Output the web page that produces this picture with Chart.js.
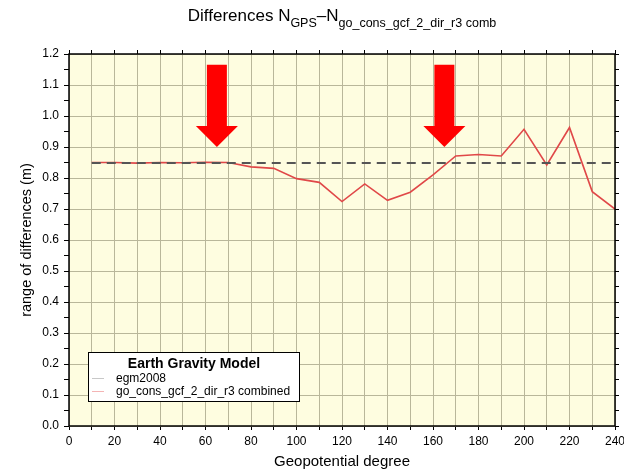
<!DOCTYPE html>
<html>
<head>
<meta charset="utf-8">
<script src="https://cdn.jsdelivr.net/npm/chart.js@4/dist/chart.umd.min.js"></script>
<style>
  html, body { margin: 0; padding: 0; background: #fff; }
  #wrap { width: 624px; height: 471px; position: relative; }
</style>
</head>
<body>
<div id="wrap"><canvas id="chart"></canvas></div>
<script>
// geopotential degrees (x)
const degrees = [10, 20, 30, 40, 50, 60, 70, 80, 90, 100, 110, 120,
                 130, 140, 150, 160, 170, 180, 190, 200, 210, 220, 230, 240];
// egm2008 reference range (constant)
const egm2008 = [0.848, 0.848, 0.848, 0.848, 0.848, 0.848, 0.848, 0.848,
                 0.848, 0.848, 0.848, 0.848, 0.848, 0.848, 0.848, 0.848,
                 0.848, 0.848, 0.848, 0.848, 0.848, 0.848, 0.848, 0.848];
// go_cons_gcf_2_dir_r3 combined
const goCons = [0.850, 0.850, 0.848, 0.850, 0.849, 0.851, 0.850, 0.836,
                0.831, 0.798, 0.786, 0.724, 0.781, 0.728, 0.754, 0.810,
                0.871, 0.876, 0.871, 0.957, 0.842, 0.963, 0.756, 0.700];
const seriesLabels = ['egm2008', 'go_cons_gcf_2_dir_r3 combined'];
const legendTitle = 'Earth Gravity Model';
// arrow annotations (data units)
const arrowDegrees = [65, 165];
const arrowTop = 1.165;
const arrowTip = 0.90;

const FONT = '"Liberation Sans", Arial, Helvetica, sans-serif';

const toPoints = ys => degrees.map((d, i) => ({ x: d, y: ys[i] }));

// background, arrows, frame, title, legend
const decorPlugin = {
  id: 'decor',
  beforeDraw(chart) {
    const { ctx, chartArea: a } = chart;
    ctx.save();
    ctx.fillStyle = '#fefde0';
    ctx.fillRect(a.left, a.top, a.right - a.left, a.bottom - a.top);
    ctx.restore();
  },
  afterDatasetsDraw(chart) {
    const { ctx, chartArea: a, scales } = chart;
    const xs = scales.x, ys = scales.y;
    ctx.save();

    // arrows
    ctx.fillStyle = '#ff0000';
    arrowDegrees.forEach(d => {
      const cx = xs.getPixelForValue(d);
      const top = ys.getPixelForValue(arrowTop);
      const tip = ys.getPixelForValue(arrowTip);
      const shoulder = tip - 21;
      ctx.beginPath();
      ctx.moveTo(cx - 10, top);
      ctx.lineTo(cx + 10, top);
      ctx.lineTo(cx + 10, shoulder);
      ctx.lineTo(cx + 21, shoulder);
      ctx.lineTo(cx, tip);
      ctx.lineTo(cx - 21, shoulder);
      ctx.lineTo(cx - 10, shoulder);
      ctx.closePath();
      ctx.fill();
    });

    // frame
    ctx.strokeStyle = '#000';
    ctx.lineWidth = 1.5;
    ctx.strokeRect(a.left, a.top, a.right - a.left, a.bottom - a.top);

    // legend box
    const lx = 88, ly = 352, lw = 211, lh = 49;
    ctx.fillStyle = '#fff';
    ctx.fillRect(lx, ly, lw, lh);
    ctx.lineWidth = 1;
    ctx.strokeRect(lx + 0.5, ly + 0.5, lw, lh);
    ctx.fillStyle = '#000';
    ctx.textAlign = 'center';
    ctx.textBaseline = 'alphabetic';
    ctx.font = 'bold 14px ' + FONT;
    ctx.fillText(legendTitle, lx + 106, ly + 16);
    ctx.textAlign = 'left';
    ctx.font = '12px ' + FONT;
    const sampleColors = ['#c8c8c8', '#f4b4b4'];
    seriesLabels.forEach((lab, i) => {
      const yy = ly + 26 + i * 13;
      ctx.strokeStyle = sampleColors[i];
      ctx.lineWidth = 1;
      ctx.beginPath();
      ctx.moveTo(lx + 4, yy + 0.5);
      ctx.lineTo(lx + 16, yy + 0.5);
      ctx.stroke();
      ctx.fillStyle = '#000';
      ctx.fillText(lab, lx + 28, yy + 4);
    });

    // title with subscripts
    const parts = [
      { t: 'Differences N', sub: false },
      { t: 'GPS', sub: true },
      { t: '\u2013N', sub: false },
      { t: 'go_cons_gcf_2_dir_r3 comb', sub: true }
    ];
    const mainFont = '17px ' + FONT, subFont = '12.5px ' + FONT;
    let total = 0;
    parts.forEach(p => {
      ctx.font = p.sub ? subFont : mainFont;
      p.w = ctx.measureText(p.t).width;
      total += p.w;
    });
    let x = 342 - total / 2;
    const base = 21;
    ctx.fillStyle = '#000';
    parts.forEach(p => {
      ctx.font = p.sub ? subFont : mainFont;
      ctx.fillText(p.t, x, p.sub ? base + 6 : base);
      x += p.w;
    });
    ctx.restore();
  }
};

const tickFont = { family: FONT, size: 12 };
const isMajorY = v => Math.abs(Math.round(v * 10) - v * 10) < 1e-6;

new Chart(document.getElementById('chart'), {
  type: 'line',
  data: {
    datasets: [
      {
        label: seriesLabels[0],
        data: toPoints(egm2008),
        borderColor: '#555555',
        borderWidth: 2,
        borderDash: [9, 6],
        pointRadius: 0,
        tension: 0
      },
      {
        label: seriesLabels[1],
        data: toPoints(goCons),
        borderColor: '#e04848',
        borderWidth: 1.6,
        pointRadius: 0,
        tension: 0
      }
    ]
  },
  options: {
    responsive: true,
    maintainAspectRatio: false,
    animation: false,
    layout: { padding: { top: 50, right: 0, left: 0, bottom: 0 } },
    plugins: {
      legend: { display: false },
      title: { display: false },
      tooltip: { enabled: false }
    },
    scales: {
      x: {
        type: 'linear',
        position: 'bottom',
        min: 0, max: 240,
        afterFit: s => { s.height = 45; s.paddingLeft = 0; s.paddingRight = 0; },
        ticks: {
          stepSize: 10,
          autoSkip: false,
          maxRotation: 0,
          color: '#000',
          font: tickFont,
          padding: 4,
          callback: v => (v % 20 === 0 ? String(v) : '')
        },
        grid: {
          color: '#b9b79a',
          lineWidth: 1,
          tickColor: '#000',
          tickLength: 4,
          drawOnChartArea: true
        },
        border: { display: false },
        title: {
          display: true,
          text: 'Geopotential degree',
          color: '#000',
          font: { family: FONT, size: 15 },
          padding: { top: 0, bottom: 0 }
        }
      },
      x2: {
        type: 'linear',
        position: 'top',
        min: 0, max: 240,
        afterFit: s => { s.height = 4; s.paddingLeft = 0; s.paddingRight = 0; },
        ticks: { stepSize: 10, display: false },
        grid: { drawOnChartArea: false, tickColor: '#000', tickLength: 4 },
        border: { display: false }
      },
      y: {
        type: 'linear',
        position: 'left',
        min: 0, max: 1.2,
        afterFit: s => { s.width = 69; },
        ticks: {
          stepSize: 0.05,
          autoSkip: false,
          color: '#000',
          font: tickFont,
          padding: 5,
          callback: v => (isMajorY(v) ? v.toFixed(1) : '')
        },
        grid: {
          color: ctx => (isMajorY(ctx.tick.value) ? '#b9b79a' : 'rgba(0,0,0,0)'),
          tickColor: '#000',
          tickLength: 5
        },
        border: { display: false },
        title: {
          display: true,
          text: 'range of differences (m)',
          color: '#000',
          font: { family: FONT, size: 14.5 },
          padding: { top: 18, bottom: 0 }
        }
      },
      y2: {
        type: 'linear',
        position: 'right',
        min: 0, max: 1.2,
        afterFit: s => { s.width = 9; },
        ticks: { stepSize: 0.05, display: false },
        grid: { drawOnChartArea: false, tickColor: '#000', tickLength: 4 },
        border: { display: false }
      }
    }
  },
  plugins: [decorPlugin]
});
</script>
</body>
</html>
